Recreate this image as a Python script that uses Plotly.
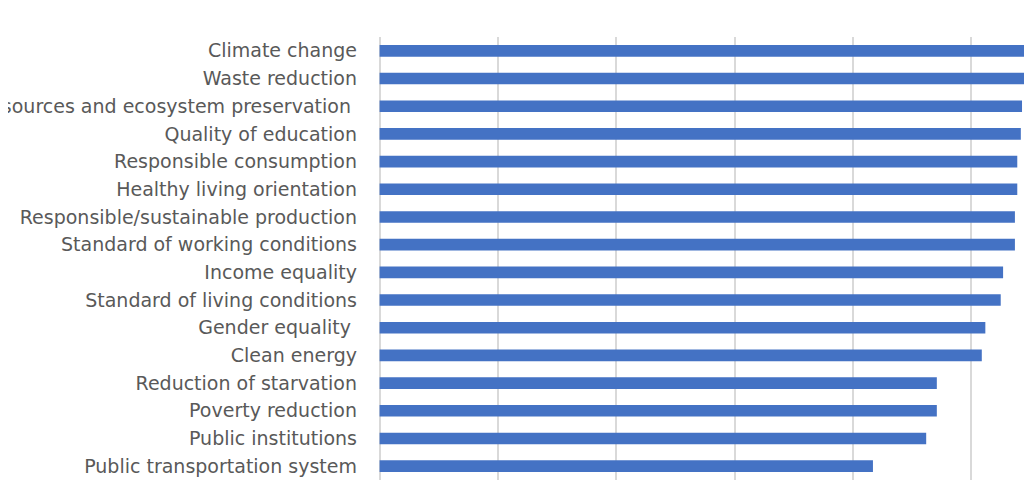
import plotly.graph_objects as go

categories = [
    "Climate change",
    "Waste reduction",
    "Resources and ecosystem preservation\u00a0",
    "Quality of education",
    "Responsible consumption",
    "Healthy living orientation",
    "Responsible/sustainable production",
    "Standard of working conditions",
    "Income equality",
    "Standard of living conditions",
    "Gender equality\u00a0",
    "Clean energy",
    "Reduction of starvation",
    "Poverty reduction",
    "Public institutions",
    "Public transportation system",
]
values = [5.70, 5.62, 5.43, 5.42, 5.39, 5.39, 5.37, 5.37,
          5.27, 5.25, 5.12, 5.09, 4.71, 4.71, 4.62, 4.17]

fig = go.Figure(
    go.Bar(
        x=values,
        y=categories,
        orientation="h",
        marker=dict(color="#4472C4", line=dict(width=0)),
    )
)

fig.update_layout(
    width=1032,
    height=480,
    margin=dict(l=371, r=0, t=29, b=8),
    paper_bgcolor="white",
    plot_bgcolor="white",
    bargap=0.58,
    showlegend=False,
    font=dict(family="DejaVu Sans", color="#595959"),
)
fig.update_xaxes(
    range=[-0.005, 5.582],
    dtick=1,
    tick0=0,
    showgrid=True,
    gridcolor="#D9D9D9",
    gridwidth=1.5,
    zeroline=True,
    zerolinecolor="#D9D9D9",
    zerolinewidth=1.5,
    showticklabels=False,
    showline=False,
    automargin=False,
)
fig.update_yaxes(
    autorange="reversed",
    automargin=False,
    tickfont=dict(size=19, color="#595959", family="DejaVu Sans"),
    ticklabelstandoff=21,
    showgrid=False,
    showline=False,
)

fig.write_html("out.html")
